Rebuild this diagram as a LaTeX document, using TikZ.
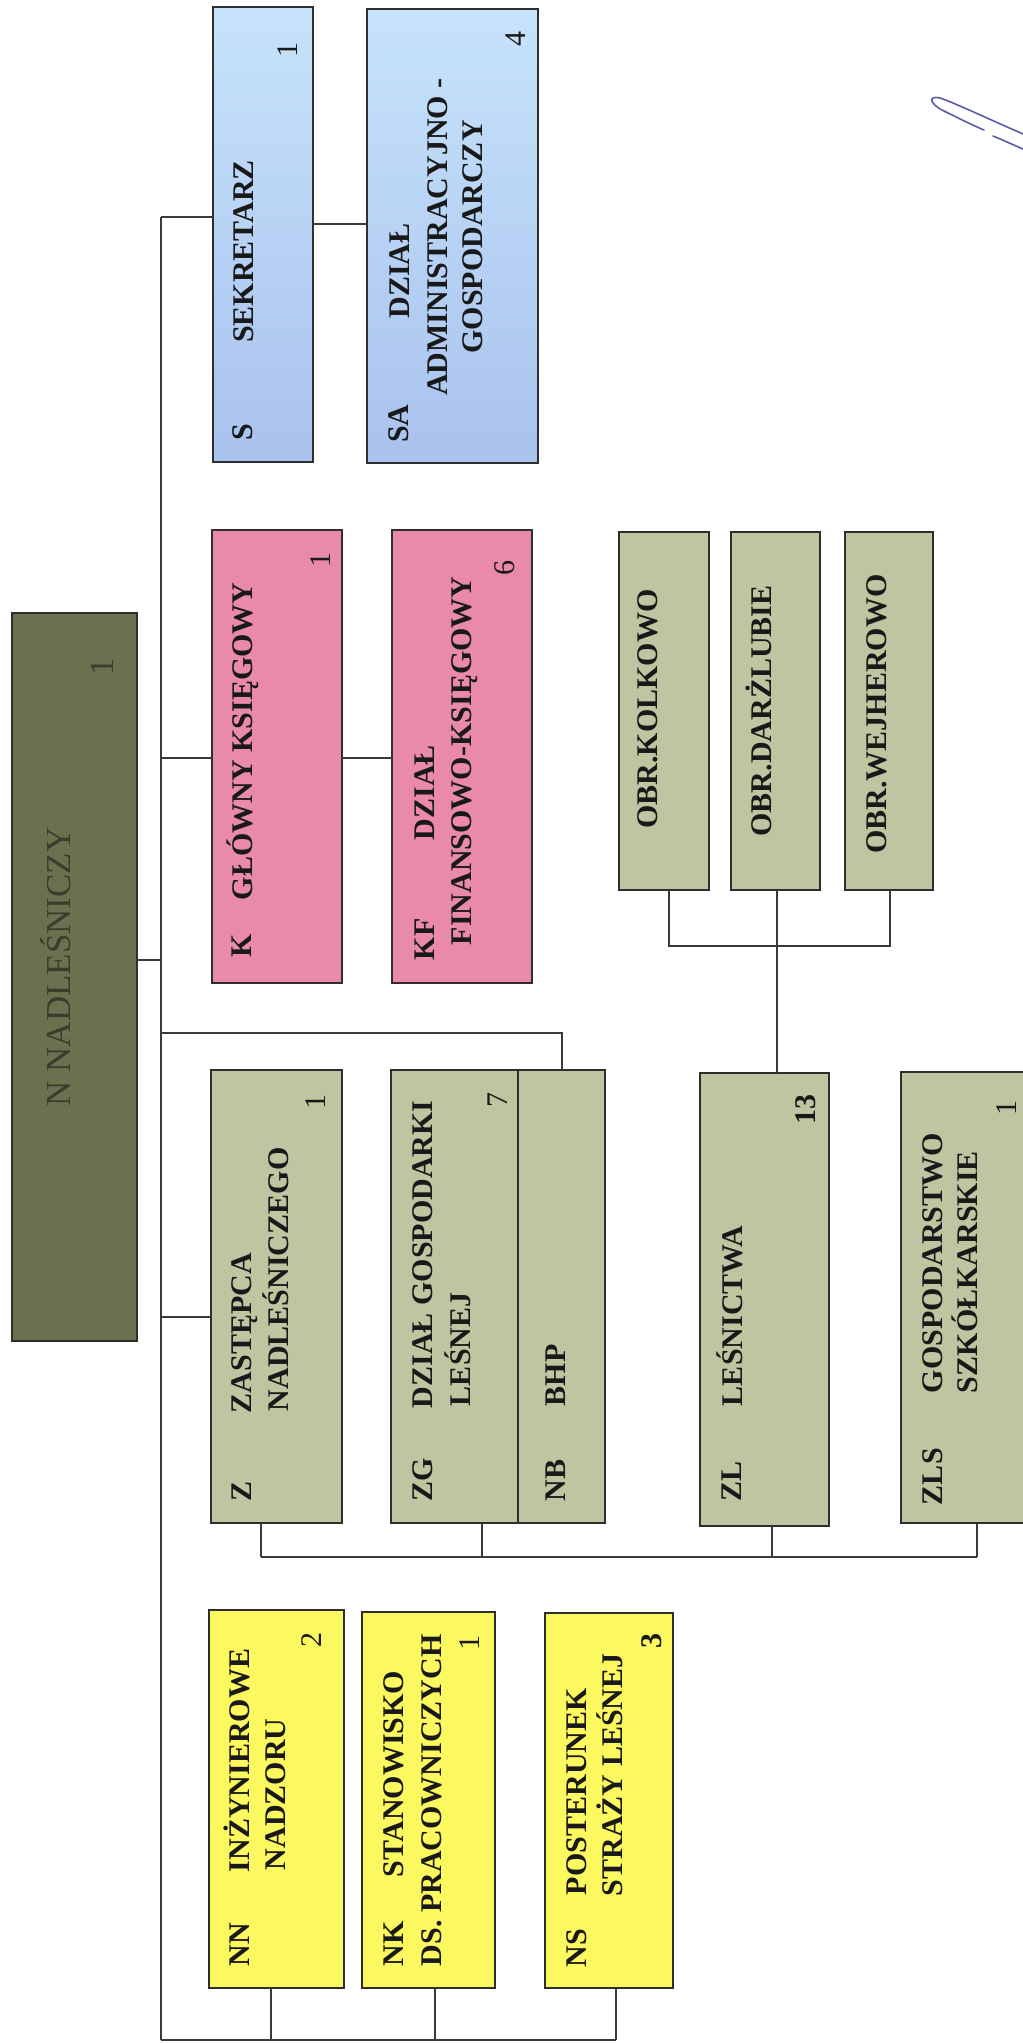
\documentclass[tikz,border=0pt]{standalone}
\usepackage{fontspec}
\setmainfont{Liberation Serif}
\definecolor{lineC}{HTML}{3A3A3A}
\definecolor{edgeC}{HTML}{2E2E2E}
\definecolor{blueT}{HTML}{C6E3FA}
\definecolor{blueB}{HTML}{A9C2EE}
\definecolor{pinkC}{HTML}{E98AAB}
\definecolor{greenC}{HTML}{BDC6A0}
\definecolor{yellowC}{HTML}{FCF860}
\definecolor{oliveC}{HTML}{6B714F}
\definecolor{oliveT}{HTML}{3A3D2C}
\definecolor{sigC}{HTML}{5A5CA8}
\newcommand\obox[6]{\node[#6, anchor=north west, minimum width={(#4-#2)*0.5pt}, minimum height={(#5-#3)*0.5pt}] (#1) at (#2,#3) {};}
\begin{document}
\begin{tikzpicture}[x=0.5pt,y=-0.5pt,
  boxbase/.style={draw=edgeC, line width=0.9pt, inner sep=0pt, outer sep=0pt, rectangle},
  bluebox/.style={boxbase, top color=blueT, bottom color=blueB},
  pinkbox/.style={boxbase, fill=pinkC},
  greenbox/.style={boxbase, fill=greenC},
  yellowbox/.style={boxbase, fill=yellowC},
  olivebox/.style={boxbase, fill=oliveC},
  txt/.style={rotate=90, inner sep=0pt, outer sep=0pt, text=black!90, font=\bfseries\fontsize{15}{18}\selectfont, text height=10pt, text depth=0pt},
  tb/.style={txt, anchor=west},
  tc/.style={txt, anchor=center},
  cnt/.style={txt, anchor=east, font=\fontsize{15}{18}\selectfont},
  cntb/.style={txt, anchor=east},
  conn/.style={draw=lineC, line width=1pt},
  sig/.style={draw=sigC, line width=0.8pt, line cap=round}
]
\useasboundingbox (0,0) rectangle (1022,2043);

% ---- boxes ----
\obox{S}{213}{7}{313}{462}{bluebox}
\obox{SA}{367}{9}{538}{463}{bluebox}
\obox{K}{212}{530}{342}{983}{pinkbox}
\obox{KF}{392}{530}{532}{983}{pinkbox}
\obox{O1}{619}{532}{709}{890}{greenbox}
\obox{O2}{731}{532}{820}{890}{greenbox}
\obox{O3}{845}{532}{933}{890}{greenbox}
\obox{N}{12}{613}{137}{1341}{olivebox}
\obox{Z}{211}{1070}{342}{1523}{greenbox}
\obox{ZG}{391}{1070}{518}{1523}{greenbox}
\obox{NB}{518}{1070}{605}{1523}{greenbox}
\obox{ZL}{700}{1073}{829}{1526}{greenbox}
\obox{ZLS}{901}{1072}{1040}{1523}{greenbox}
\obox{NN}{209}{1610}{344}{1988}{yellowbox}
\obox{NK}{362}{1612}{495}{1988}{yellowbox}
\obox{NS}{545}{1613}{673}{1988}{yellowbox}

% ---- texts ----
\node[tb] (sc) at (242,441) {S};
\node[tb] (st) at (243,343) {SEKRETARZ};
\node[cnt] (sn) at (287,43) {1};

\node[tb] (sac) at (398,443) {SA};
\node[tc] (sat1) at (399,271) {DZIAŁ};
\node[tc] (sat2) at (437,237) {ADMINISTRACYJNO -};
\node[tc] (sat3) at (472,237) {GOSPODARCZY};
\node[cnt] (san) at (515,32) {4};

\node[tb] (kc) at (241,957) {K};
\node[tb] (kt) at (242,900) {GŁÓWNY KSIĘGOWY};
\node[cnt] (kn) at (320,552) {1};

\node[tb] (kfc) at (424,960) {KF};
\node[tb] (kft1) at (424,840) {DZIAŁ};
\node[tb] (kft2) at (461,945) {FINANSOWO-KSIĘGOWY};
\node[cnt] (kfn) at (504,560) {6};

\node[tc] (o1t) at (647,709) {OBR.KOLKOWO};
\node[tc] (o2t) at (761,711) {OBR.DARŻLUBIE};
\node[tc] (o3t) at (876,714) {OBR.WEJHEROWO};

\node[tc, font=\fontsize{17.5}{20}\selectfont, text=oliveT, text height=11.5pt] (nt) at (59,967) {N NADLEŚNICZY};
\node[cnt, text=oliveT, font=\fontsize{17}{20}\selectfont] (nn1) at (103,658) {1};

\node[tb] (zc) at (241,1501) {Z};
\node[tb] (zt1) at (241,1413) {ZASTĘPCA};
\node[tb] (zt2) at (278,1411) {NADLEŚNICZEGO};
\node[cnt] (zn) at (315,1094) {1};

\node[tb] (zgc) at (422,1501) {ZG};
\node[tb] (zgt1) at (422,1408) {DZIAŁ GOSPODARKI};
\node[tb] (zgt2) at (460,1406) {LEŚNEJ};
\node[cnt] (zgn) at (497,1092) {7};

\node[tb] (nbc) at (555,1501) {NB};
\node[tb] (nbt) at (555,1406) {BHP};

\node[tb] (zlc) at (731,1501) {ZL};
\node[tb] (zlt) at (732,1406) {LEŚNICTWA};
\node[cntb] (zln) at (805,1094) {13};

\node[tb] (zlsc) at (932,1505) {ZLS};
\node[tb] (zlst1) at (932,1393) {GOSPODARSTWO};
\node[tb] (zlst2) at (967,1393) {SZKÓŁKARSKIE};
\node[cnt] (zlsn) at (1006,1100) {1};

\node[tb] (nnc) at (239,1966) {NN};
\node[tb] (nnt1) at (239,1872) {INŻYNIEROWE};
\node[tb] (nnt2) at (275,1870) {NADZORU};
\node[cnt] (nnn) at (311,1632) {2};

\node[tb] (nkc) at (393,1966) {NK};
\node[tb] (nkt1) at (393,1877) {STANOWISKO};
\node[tb] (nkt2) at (431,1966) {DS. PRACOWNICZYCH};
\node[cnt] (nkn) at (469,1635) {1};

\node[tb] (nsc) at (576,1967) {NS};
\node[tb] (nst1) at (576,1895) {POSTERUNEK};
\node[tb] (nst2) at (612,1896) {STRAŻY LEŚNEJ};
\node[cntb] (nsn) at (651,1633) {3};

% ---- connector coordinates ----
\coordinate (tS) at (161,217);
\coordinate (tSA) at (0,224);
\coordinate (tK) at (161,758);
\coordinate (tN) at (161,960);
\coordinate (tNB) at (161,1033);
\coordinate (tZ) at (161,1317);
\coordinate (tB) at (161,2040);
\coordinate (bZ) at (261,1557);
\coordinate (bZG) at (482,1557);
\coordinate (bZL) at (772,1557);
\coordinate (bZLS) at (977,1557);
\coordinate (oL) at (669,946);
\coordinate (oM) at (777,946);
\coordinate (oR) at (890,946);
\coordinate (yNN) at (271,2040);
\coordinate (yNK) at (435,2040);
\coordinate (yNS) at (616,2040);

% ---- connectors ----
\draw[conn] (tS) -- (tB);
\draw[conn] (tS) -- (S.west |- tS);
\draw[conn] (S.east |- tSA) -- (SA.west |- tSA);
\draw[conn] (tK) -- (K.west |- tK);
\draw[conn] (K.east |- tK) -- (KF.west |- tK);
\draw[conn] (N.east |- tN) -- (tN);
\draw[conn] (tNB) -| (NB.north);
\draw[conn] (tZ) -- (Z.west |- tZ);
\draw[conn] (Z.south -| bZ) -- (bZ);
\draw[conn] (ZG.south -| bZG) -- (bZG);
\draw[conn] (ZL.south -| bZL) -- (bZL);
\draw[conn] (ZLS.south -| bZLS) -- (bZLS);
\draw[conn] (bZ) -- (bZLS);
\draw[conn] (ZL.north -| oM) -- (oM);
\draw[conn] (O1.south -| oL) -- (oL) -- (oR) -- (O3.south -| oR);
\draw[conn] (O2.south -| oM) -- (oM);
\draw[conn] (tB) -- (yNS);
\draw[conn] (NN.south -| yNN) -- (yNN);
\draw[conn] (NK.south -| yNK) -- (yNK);
\draw[conn] (NS.south -| yNS) -- (yNS);

% ---- pen mark ----
\draw[sig] (1030,137) .. controls (995,122) and (955,103) .. (940,98) .. controls (928,95) and (929,104) .. (944,111) .. controls (958,118) and (972,125) .. (984,130);
\draw[sig] (993,136) .. controls (1005,141) and (1018,147) .. (1030,152);
\end{tikzpicture}
\end{document}
